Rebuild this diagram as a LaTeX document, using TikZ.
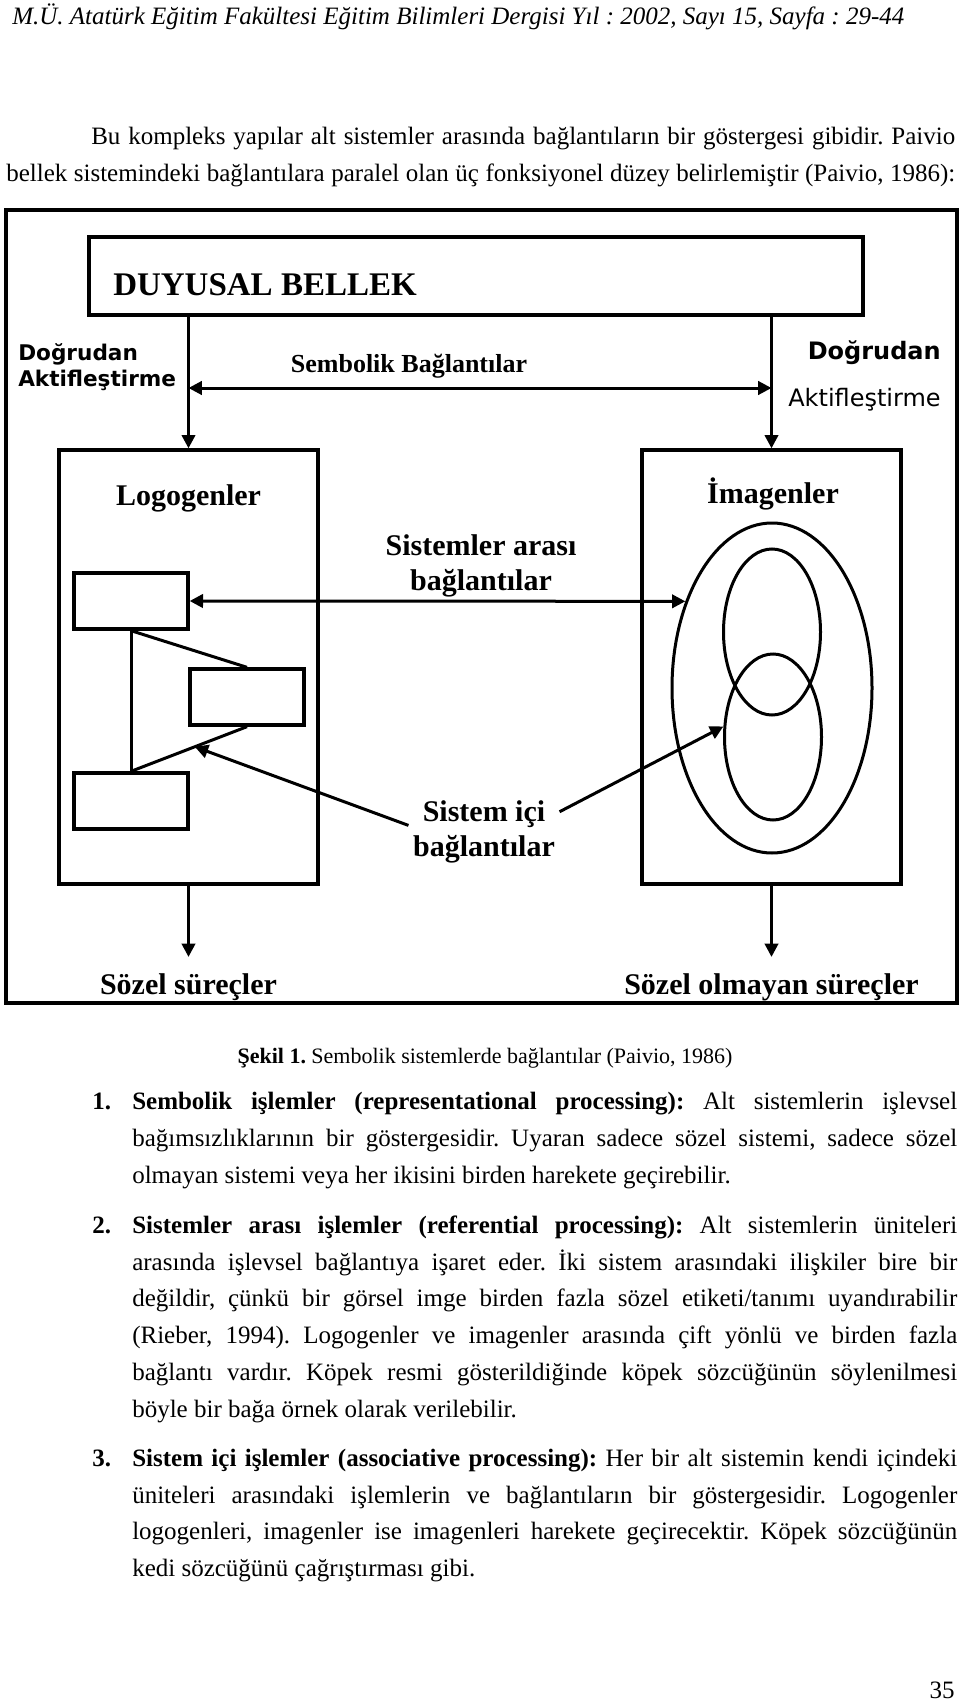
\documentclass[tikz,border=0pt]{standalone}
\usepackage{fontspec}
\setmainfont{Liberation Serif}
\newfontfamily\verdana{DejaVu Sans}
\usetikzlibrary{arrows.meta,shapes.geometric}
\frenchspacing

\newcommand{\fsz}[2]{\fontsize{#1}{#2}\selectfont}
\newcommand{\jline}[2]{\makebox[#1][s]{#2}}

\tikzset{
  box/.style={draw, line width=2.5pt, inner sep=0pt},
  ring/.style={ellipse, draw, line width=2.25pt, inner sep=0pt},
  conn/.style={line width=2.25pt},
  arr/.style={conn, -{Triangle[length=10pt,width=10pt]}},
  darr/.style={conn, {Triangle[length=10pt,width=10pt]}-{Triangle[length=10pt,width=10pt]}},
  lbl/.style={font=\bfseries\fsz{22.5pt}{26.25pt}, align=center},
  body/.style={font=\fsz{18.75pt}{22pt}, anchor=base west, inner sep=0pt},
  sans/.style={font=\verdana\bfseries\fsz{16.2pt}{19.5pt}, inner sep=0pt},
}

\begin{document}
\begin{tikzpicture}[x=0.75pt, y=-0.75pt]
  \useasboundingbox (0,0) rectangle (960,1701);
  % running head and text above the figure
  \node[body, font=\itshape\fsz{18.75pt}{22pt}] (journal) at (12,25) {M.Ü. Atatürk Eğitim Fakültesi Eğitim Bilimleri Dergisi Yıl : 2002, Sayı 15, Sayfa : 29-44};
  \node[body] (par1) at (91,145) {\jline{648pt}{Bu kompleks yapılar alt sistemler arasında bağlantıların bir göstergesi gibidir. Paivio}};
  \node[body] (par2) at (6,182) {\jline{711.75pt}{bellek sistemindeki bağlantılara paralel olan üç fonksiyonel düzey belirlemiştir (Paivio, 1986):}};

  % figure: frame and sensory memory
  \draw[line width=3pt] (6,210) rectangle (957,1003);
  \node[box, minimum width=580.5pt, minimum height=58.5pt] (sense) at (476,276) {};
  \node[anchor=base west, inner sep=0pt, font=\bfseries\fsz{24.75pt}{30pt}] (sensetxt) at (113,296) {DUYUSAL BELLEK};
  \node[sans, anchor=base west] (dirL1) at (18,360) {Doğrudan};
  \node[sans, anchor=base west] (dirL2) at (18,386) {Aktifleştirme};
  \node[sans, anchor=base east, font=\verdana\bfseries\fsz{18pt}{21pt}] (dirR1) at (941,359) {Doğrudan};
  \node[sans, anchor=base east, font=\verdana\fsz{18pt}{21pt}] (dirR2) at (941,406) {Aktifleştirme};
  \node[anchor=base, inner sep=0pt, font=\bfseries\fsz{19.5pt}{23pt}] (symtxt) at (409,372) {Sembolik Bağlantılar};

  % the two subsystems
  \node[box, minimum width=194.25pt, minimum height=325.5pt] (logo) at (188.5,667) {};
  \node[box, minimum width=194.25pt, minimum height=325.5pt] (imag) at (771.5,667) {};
  \node[lbl, anchor=base, inner sep=0pt] (logotxt) at (188.5,505) {Logogenler};
  \node[lbl, anchor=base, inner sep=0pt] (imagtxt) at (773,503) {İmagenler};

  % logogens
  \node[box, minimum width=85.5pt, minimum height=42pt] (lg1) at (131,601) {};
  \node[box, minimum width=85.5pt, minimum height=42pt] (lg2) at (247,697) {};
  \node[box, minimum width=85.5pt, minimum height=42pt] (lg3) at (131,801) {};
  \draw[conn] (lg1.south) -- (lg3.north);
  \draw[conn] (lg1.south) -- (lg2.north);
  \draw[conn] (lg2.south) -- (lg3.north);
  \path (lg2.south) -- (lg3.north) coordinate[pos=0.45] (lgdiag);

  % imagens
  \node[ring, minimum width=150pt, minimum height=247.5pt] (imgout) at (772,688) {};
  \node[ring, minimum width=72.75pt, minimum height=124.5pt] (imgup) at (772,632) {};
  \node[ring, minimum width=72.75pt, minimum height=124.5pt] (imglo) at (773,737) {};

  % labels between the systems
  \node[lbl] (inter) at (481,566) {Sistemler arası\\bağlantılar};
  \node[lbl] (intra) at (484,832) {Sistem içi\\bağlantılar};
  \node[lbl, anchor=base, inner xsep=0pt, inner ysep=12pt] (verbal) at (188.5,994) {Sözel süreçler};
  \node[lbl, anchor=base, inner xsep=0pt, inner ysep=12pt] (nonverbal) at (771.5,994) {Sözel olmayan süreçler};

  % connectors
  \draw[arr] (sense.south -| logo.north) -- (logo.north);
  \draw[arr] (sense.south -| imag.north) -- (imag.north);
  \coordinate (symL) at (logo.north |- 0,388);
  \coordinate (symR) at (imag.north |- 0,388);
  \draw[darr] (symL) -- (symR);
  \draw[darr] (lg1.east) -- (imgout.135);
  \draw[arr] (intra.175) -- (lgdiag);
  \draw[arr] (intra.15) -- (imglo.168);
  \draw[arr] (logo.south) -- (verbal.north);
  \draw[arr] (imag.south) -- (nonverbal.north);

  % caption and list
  \node[anchor=base, inner sep=0pt, font=\fsz{16.5pt}{20pt}] (caption) at (485,1063) {\textbf{Şekil 1.}\ Sembolik sistemlerde bağlantılar (Paivio, 1986)};
  \node[body, font=\bfseries\fsz{18.75pt}{22pt}] (num1) at (92,1109) {1.};
  \node[body] (it1a) at (132,1109) {\jline{618.75pt}{\textbf{Sembolik işlemler (representational processing):} Alt sistemlerin işlevsel}};
  \node[body] (it1b) at (132,1146) {\jline{618.75pt}{bağımsızlıklarının bir göstergesidir. Uyaran sadece sözel sistemi, sadece sözel}};
  \node[body] (it1c) at (132,1183) {olmayan sistemi veya her ikisini birden harekete geçirebilir.};
  \node[body, font=\bfseries\fsz{18.75pt}{22pt}] (num2) at (92,1233) {2.};
  \node[body] (it2a) at (132,1233) {\jline{618.75pt}{\textbf{Sistemler arası işlemler (referential processing):} Alt sistemlerin üniteleri}};
  \node[body] (it2b) at (132,1270) {\jline{618.75pt}{arasında işlevsel bağlantıya işaret eder. İki sistem arasındaki ilişkiler bire bir}};
  \node[body] (it2c) at (132,1306) {\jline{618.75pt}{değildir, çünkü bir görsel imge birden fazla sözel etiketi/tanımı uyandırabilir}};
  \node[body] (it2d) at (132,1343) {\jline{618.75pt}{(Rieber, 1994). Logogenler ve imagenler arasında çift yönlü ve birden fazla}};
  \node[body] (it2e) at (132,1380) {\jline{618.75pt}{bağlantı vardır. Köpek resmi gösterildiğinde köpek sözcüğünün söylenilmesi}};
  \node[body] (it2f) at (132,1417) {böyle bir bağa örnek olarak verilebilir.};
  \node[body, font=\bfseries\fsz{18.75pt}{22pt}] (num3) at (92,1466) {3.};
  \node[body] (it3a) at (132,1466) {\jline{618.75pt}{\textbf{Sistem içi işlemler (associative processing):} Her bir alt sistemin kendi içindeki}};
  \node[body] (it3b) at (132,1503) {\jline{618.75pt}{üniteleri arasındaki işlemlerin ve bağlantıların bir göstergesidir. Logogenler}};
  \node[body] (it3c) at (132,1539) {\jline{618.75pt}{logogenleri, imagenler ise imagenleri harekete geçirecektir. Köpek sözcüğünün}};
  \node[body] (it3d) at (132,1576) {kedi sözcüğünü çağrıştırması gibi.};
  \node[body, anchor=base east] (pagenum) at (955,1698) {35};
\end{tikzpicture}
\end{document}
